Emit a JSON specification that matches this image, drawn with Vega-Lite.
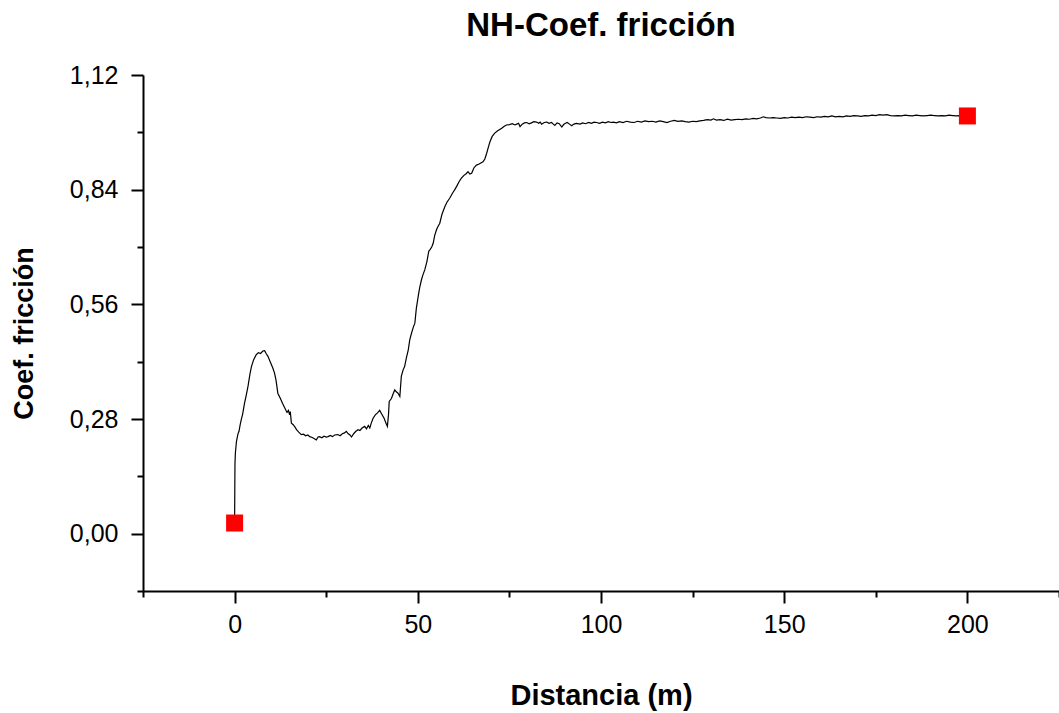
{
  "$schema": "https://vega.github.io/schema/vega-lite/v6.json",
  "autosize": "none",
  "width": 916,
  "height": 516,
  "padding": {"left": 143, "top": 75, "right": 0, "bottom": 122},
  "background": "white",
  "title": {"text": "NH-Coef. fricción", "font": "Liberation Sans", "fontSize": 33, "fontWeight": "bold", "color": "black", "anchor": "middle", "offset": 20},
  "config": {
    "view": {"stroke": null},
    "axis": {
      "domainColor": "black", "domainWidth": 2, "tickColor": "black", "tickWidth": 2,
      "labelFont": "Liberation Sans", "labelFontSize": 25, "labelColor": "black",
      "titleFont": "Liberation Sans", "titleFontSize": 27, "titleFontWeight": "bold", "titleColor": "black",
      "grid": false
    }
  },
  "datasets": {
    "curve": [
      {"d":0,"c":0.026},{"d":0.05,"c":0.10},{"d":0.1,"c":0.17},{"d":0.2,"c":0.195},{"d":0.5,"c":0.225},{"d":0.9,"c":0.243},{"d":1.2,"c":0.25},{"d":1.5,"c":0.265},{"d":1.8,"c":0.278},{"d":2.2,"c":0.292},{"d":2.7,"c":0.318},{"d":3.2,"c":0.339},{"d":3.7,"c":0.362},{"d":4.2,"c":0.39},{"d":4.6,"c":0.408},{"d":5.2,"c":0.425},{"d":5.9,"c":0.437},{"d":6.5,"c":0.442},{"d":7.1,"c":0.44},{"d":7.7,"c":0.446},{"d":8.2,"c":0.447},{"d":8.6,"c":0.44},{"d":9.1,"c":0.433},{"d":9.8,"c":0.418},{"d":10.4,"c":0.405},{"d":10.9,"c":0.392},{"d":11.3,"c":0.375},{"d":11.8,"c":0.343},{"d":12.5,"c":0.33},{"d":13.1,"c":0.318},{"d":13.7,"c":0.307},{"d":14.3,"c":0.296},{"d":14.7,"c":0.301},{"d":15.0,"c":0.29},{"d":15.2,"c":0.298},{"d":15.5,"c":0.27},{"d":16.0,"c":0.266},{"d":16.5,"c":0.26},{"d":16.9,"c":0.254},{"d":17.5,"c":0.248},{"d":18.2,"c":0.242},{"d":18.8,"c":0.243},{"d":19.4,"c":0.239},{"d":20.0,"c":0.241},{"d":20.5,"c":0.237},{"d":21.2,"c":0.235},{"d":21.8,"c":0.232},{"d":22.3,"c":0.229},{"d":22.8,"c":0.236},{"d":23.2,"c":0.237},{"d":23.8,"c":0.234},{"d":24.4,"c":0.238},{"d":25.0,"c":0.236},{"d":25.5,"c":0.237},{"d":26.1,"c":0.24},{"d":26.7,"c":0.237},{"d":27.3,"c":0.241},{"d":28.2,"c":0.242},{"d":28.8,"c":0.239},{"d":29.4,"c":0.244},{"d":30.0,"c":0.246},{"d":30.5,"c":0.25},{"d":31.0,"c":0.244},{"d":31.5,"c":0.241},{"d":31.9,"c":0.236},{"d":32.5,"c":0.244},{"d":33.1,"c":0.25},{"d":33.7,"c":0.254},{"d":34.2,"c":0.252},{"d":34.8,"c":0.258},{"d":35.5,"c":0.262},{"d":36.0,"c":0.256},{"d":36.5,"c":0.264},{"d":36.9,"c":0.258},{"d":37.3,"c":0.27},{"d":37.8,"c":0.282},{"d":38.4,"c":0.29},{"d":39.0,"c":0.295},{"d":39.6,"c":0.301},{"d":40.1,"c":0.293},{"d":40.8,"c":0.282},{"d":41.3,"c":0.27},{"d":41.7,"c":0.262},{"d":42.0,"c":0.29},{"d":42.2,"c":0.323},{"d":42.8,"c":0.33},{"d":43.2,"c":0.34},{"d":43.7,"c":0.351},{"d":44.2,"c":0.346},{"d":44.6,"c":0.343},{"d":45.1,"c":0.335},{"d":45.5,"c":0.384},{"d":46.0,"c":0.4},{"d":46.4,"c":0.408},{"d":46.9,"c":0.43},{"d":47.4,"c":0.449},{"d":47.8,"c":0.473},{"d":48.3,"c":0.49},{"d":48.8,"c":0.505},{"d":49.2,"c":0.514},{"d":49.6,"c":0.55},{"d":50.1,"c":0.579},{"d":50.5,"c":0.6},{"d":51.0,"c":0.62},{"d":51.4,"c":0.632},{"d":51.9,"c":0.644},{"d":52.5,"c":0.665},{"d":53.0,"c":0.69},{"d":53.3,"c":0.693},{"d":53.8,"c":0.7},{"d":54.2,"c":0.709},{"d":54.6,"c":0.728},{"d":55.1,"c":0.742},{"d":55.5,"c":0.75},{"d":56.0,"c":0.758},{"d":56.6,"c":0.78},{"d":57.4,"c":0.799},{"d":58.0,"c":0.81},{"d":58.7,"c":0.819},{"d":59.5,"c":0.832},{"d":60.1,"c":0.84},{"d":60.6,"c":0.848},{"d":61.3,"c":0.86},{"d":61.9,"c":0.868},{"d":62.6,"c":0.875},{"d":63.2,"c":0.879},{"d":63.7,"c":0.884},{"d":64.2,"c":0.878},{"d":64.7,"c":0.88},{"d":65.3,"c":0.893},{"d":66.0,"c":0.9},{"d":66.6,"c":0.902},{"d":67.2,"c":0.905},{"d":67.8,"c":0.908},{"d":68.3,"c":0.915},{"d":68.8,"c":0.929},{"d":69.3,"c":0.945},{"d":69.7,"c":0.957},{"d":70.3,"c":0.97},{"d":71.0,"c":0.978},{"d":71.8,"c":0.984},{"d":72.9,"c":0.99},{"d":73.6,"c":0.995},{"d":74.2,"c":0.998},{"d":75.0,"c":0.999},{"d":75.8,"c":1.001},{"d":76.5,"c":0.998},{"d":77.0,"c":1.0},{"d":77.5,"c":1.002},{"d":77.9,"c":0.994},{"d":78.5,"c":1.0},{"d":79.1,"c":1.003},{"d":79.7,"c":1.004},{"d":80.4,"c":1.001},{"d":81.0,"c":1.003},{"d":81.7,"c":1.006},{"d":82.4,"c":1.005},{"d":83.0,"c":1.002},{"d":83.4,"c":1.005},{"d":83.8,"c":1.0},{"d":84.5,"c":1.004},{"d":85.2,"c":1.005},{"d":85.8,"c":1.002},{"d":86.5,"c":1.004},{"d":87.0,"c":1.0},{"d":87.4,"c":0.997},{"d":88.0,"c":1.003},{"d":88.6,"c":1.001},{"d":89.3,"c":0.993},{"d":89.8,"c":0.999},{"d":90.3,"c":1.002},{"d":90.8,"c":1.004},{"d":91.4,"c":1.0},{"d":92.0,"c":0.996},{"d":92.6,"c":1.0},{"d":93.3,"c":1.002},{"d":94.3,"c":1.0},{"d":95.0,"c":1.003},{"d":95.8,"c":1.001},{"d":96.6,"c":1.004},{"d":97.4,"c":1.002},{"d":98.1,"c":1.005},{"d":98.8,"c":1.004},{"d":99.6,"c":1.002},{"d":100.4,"c":1.005},{"d":101.2,"c":1.003},{"d":102.0,"c":1.006},{"d":102.7,"c":1.004},{"d":103.4,"c":1.005},{"d":104.2,"c":1.003},{"d":105.0,"c":1.006},{"d":106.0,"c":1.004},{"d":107.0,"c":1.007},{"d":108.0,"c":1.005},{"d":109.0,"c":1.004},{"d":110.0,"c":1.007},{"d":111.0,"c":1.005},{"d":112.0,"c":1.008},{"d":113.0,"c":1.006},{"d":114.0,"c":1.007},{"d":115.0,"c":1.005},{"d":116.0,"c":1.008},{"d":117.0,"c":1.006},{"d":118.0,"c":1.004},{"d":119.0,"c":1.007},{"d":120.0,"c":1.009},{"d":121.0,"c":1.007},{"d":122.0,"c":1.008},{"d":123.0,"c":1.006},{"d":124.0,"c":1.005},{"d":125.0,"c":1.007},{"d":126.0,"c":1.006},{"d":127.0,"c":1.008},{"d":128.0,"c":1.009},{"d":129.0,"c":1.011},{"d":130.0,"c":1.01},{"d":130.7,"c":1.013},{"d":131.5,"c":1.01},{"d":132.5,"c":1.011},{"d":133.5,"c":1.009},{"d":134.5,"c":1.012},{"d":135.5,"c":1.01},{"d":136.5,"c":1.011},{"d":137.5,"c":1.012},{"d":138.5,"c":1.011},{"d":139.5,"c":1.013},{"d":140.5,"c":1.012},{"d":141.5,"c":1.014},{"d":142.5,"c":1.013},{"d":143.5,"c":1.015},{"d":144.3,"c":1.018},{"d":145.0,"c":1.016},{"d":146.0,"c":1.015},{"d":147.0,"c":1.016},{"d":148.0,"c":1.015},{"d":149.0,"c":1.014},{"d":150.0,"c":1.016},{"d":151.0,"c":1.015},{"d":152.0,"c":1.017},{"d":153.0,"c":1.016},{"d":154.0,"c":1.017},{"d":155.0,"c":1.016},{"d":156.0,"c":1.018},{"d":157.0,"c":1.017},{"d":158.0,"c":1.016},{"d":159.0,"c":1.018},{"d":160.0,"c":1.017},{"d":161.0,"c":1.019},{"d":162.0,"c":1.018},{"d":163.0,"c":1.02},{"d":164.0,"c":1.018},{"d":165.0,"c":1.019},{"d":166.0,"c":1.018},{"d":167.0,"c":1.02},{"d":168.0,"c":1.019},{"d":169.0,"c":1.021},{"d":170.0,"c":1.02},{"d":171.0,"c":1.019},{"d":172.0,"c":1.021},{"d":173.0,"c":1.02},{"d":174.0,"c":1.022},{"d":175.0,"c":1.021},{"d":176.0,"c":1.023},{"d":177.0,"c":1.022},{"d":178.0,"c":1.023},{"d":179.0,"c":1.021},{"d":180.0,"c":1.02},{"d":181.0,"c":1.021},{"d":182.0,"c":1.02},{"d":183.0,"c":1.022},{"d":184.0,"c":1.021},{"d":185.0,"c":1.02},{"d":186.0,"c":1.022},{"d":187.0,"c":1.021},{"d":188.0,"c":1.02},{"d":189.0,"c":1.021},{"d":190.0,"c":1.022},{"d":191.0,"c":1.021},{"d":192.0,"c":1.02},{"d":193.0,"c":1.021},{"d":194.0,"c":1.02},{"d":195.0,"c":1.022},{"d":196.0,"c":1.021},{"d":197.0,"c":1.02},{"d":198.0,"c":1.021},{"d":199.0,"c":1.02},{"d":200.0,"c":1.02}
    ],
    "ends": [{"d":0,"c":0.026},{"d":200,"c":1.02}]
  },
  "encoding": {
    "x": {
      "field": "d", "type": "quantitative",
      "scale": {"domain": [-25, 225], "nice": false, "zero": false},
      "axis": {
        "title": "Distancia (m)",
        "titleFontSize": 29,
        "values": [-25, 0, 25, 50, 75, 100, 125, 150, 175, 200, 225],
        "labelExpr": "datum.value % 50 === 0 ? format(datum.value, 'd') : ''",
        "tickSize": {"condition": {"test": "datum.value % 50 === 0", "value": 12}, "value": 6},
        "labelPadding": 9,
        "titlePadding": 44,
        "labelFlush": false,
        "labelOverlap": false
      }
    },
    "y": {
      "field": "c", "type": "quantitative",
      "scale": {"domain": [-0.14, 1.12], "nice": false, "zero": false},
      "axis": {
        "title": "Coef. fricción",
        "values": [-0.14, 0, 0.14, 0.28, 0.42, 0.56, 0.7, 0.84, 0.98, 1.12],
        "labelExpr": "abs(datum.value / 0.28 - round(datum.value / 0.28)) < 0.001 ? replace(format(datum.value, '.2f'), '.', ',') : ''",
        "tickSize": {"condition": {"test": "abs(datum.value / 0.28 - round(datum.value / 0.28)) < 0.001", "value": 12}, "value": 6},
        "labelPadding": 13,
        "titlePadding": 31,
        "labelFlush": false,
        "labelOverlap": false
      }
    }
  },
  "layer": [
    {"data": {"name": "curve"}, "mark": {"type": "line", "color": "black", "strokeWidth": 1.2, "interpolate": "linear"}},
    {"data": {"name": "ends"}, "mark": {"type": "point", "shape": "square", "filled": true, "color": "#ff0000", "opacity": 1, "size": 289}}
  ]
}
